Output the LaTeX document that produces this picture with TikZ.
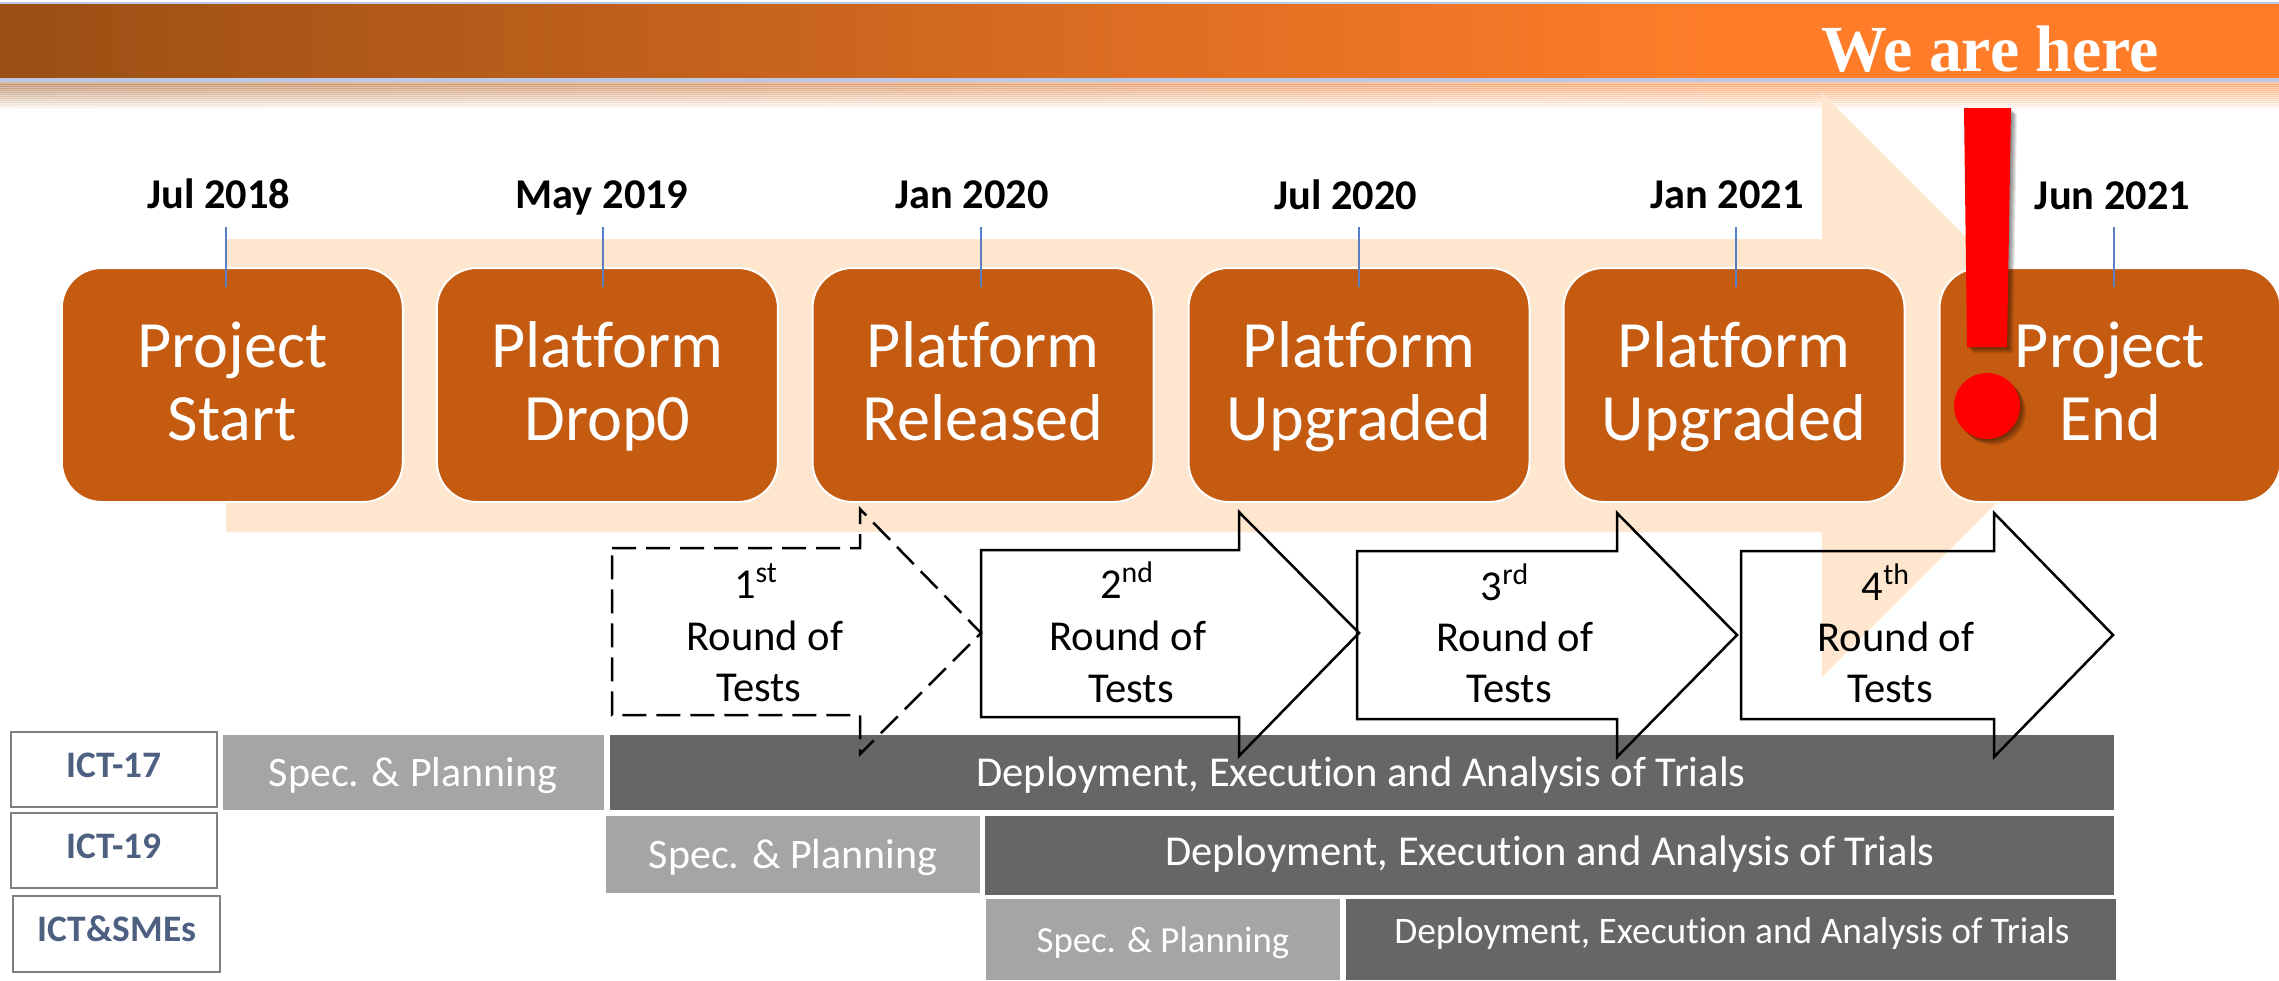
\documentclass[tikz,border=0pt]{standalone}
\usepackage{fontspec}
\setmainfont[Ligatures=NoCommon]{Carlito}
\newfontfamily\hdfont{Liberation Serif}
\usetikzlibrary{shadings}
\definecolor{boxc}{HTML}{C55A11}
\definecolor{beige}{HTML}{FEE7CE}
\definecolor{lblc}{HTML}{4D6082}
\definecolor{barl}{HTML}{A5A5A5}
\definecolor{bard}{HTML}{666666}
\definecolor{tickc}{HTML}{5B7FC4}
\definecolor{hdl}{HTML}{9A4F14}
\definecolor{hdr}{HTML}{FF7D29}
\definecolor{hdline}{HTML}{BCC9E6}
\pgfdeclarehorizontalshading{hdshade}{100bp}{color(0bp)=(hdl); color(25bp)=(hdl); color(62.55bp)=(hdr); color(100bp)=(hdr)}
\newcommand{\pxfont}[2]{\fontsize{#1}{#2}\selectfont}
\newcommand{\lnA}{\rule{0pt}{29.5pt}}
\newcommand{\lnB}{\rule[-10.95pt]{0pt}{10.95pt}}
\tikzset{
  x=0.5pt,y=-0.5pt,
  phase/.style={rectangle,rounded corners=20pt,fill=boxc,draw=white,line width=1pt,
    minimum width=170.5pt,minimum height=117pt,inner sep=0pt,text=white,align=center,font=\pxfont{33.1}{36.5}},
  datelab/.style={anchor=base,inner sep=0pt,font=\pxfont{21.2}{24}\bfseries,text=black},
  ticktrace/.style={draw=tickc,line width=0.6pt},
  rnd/.style={anchor=base,inner sep=0pt,font=\pxfont{21.3}{24},text=black},
  roundarrow/.style={draw=black,line width=1.25pt,miter limit=10},
  barlight/.style={fill=barl},
  bardark/.style={fill=bard},
  bartext/.style={anchor=base,inner sep=0pt,text=white},
  tag/.style={rectangle,draw=black!50,line width=1.2pt,fill=white,inner sep=0pt},
  taglab/.style={anchor=base,inner sep=0pt,text=lblc,font=\pxfont{18.7}{22}\bfseries},
}
\begin{document}
\begin{tikzpicture}
\useasboundingbox (0,0) rectangle (2279,980);
\fill[white] (0,0) rectangle (2279,980);
% header
\fill[hdline] (0,2) rectangle (2279,4);
\shade[shading=hdshade] (0,4) rectangle (2279,78);
\fill[hdline] (0,78) rectangle (2279,82);
\foreach \i in {0,...,12}{
  \pgfmathsetmacro{\op}{0.4*(1-\i/13)}
  \shade[shading=hdshade,opacity=\op] (0,82+2*\i) rectangle (2279,84+2*\i);
}
\node[anchor=base,inner sep=0pt,text=white,font=\hdfont\pxfont{32.9}{36}\bfseries] (here) at (1990,71) {We are here};
% big background arrow
\fill[beige] (226,239) -- (1822,239) -- (1822,93) -- (2114,385.5) -- (1822,677) -- (1822,532) -- (226,532) -- cycle;
% phases
\node[phase] (p1) at (232.3,385) {\lnA Project\\\lnB Start};
\node[phase] (p2) at (607.4,385) {\lnA Platform\\\lnB Drop0};
\node[phase] (p3) at (983,385) {\lnA Platform\\\lnB Released};
\node[phase] (p4) at (1359,385) {\lnA Platform\\\lnB Upgraded};
\node[phase] (p5) at (1734,385) {\lnA Platform\\\lnB Upgraded};
\node[phase] (p6) at (2110,385) {\lnA Project\\\lnB End};
% dates
\node[datelab] (d1) at (219,208) {Jul 2018};
\node[datelab] (d2) at (602,208) {May 2019};
\node[datelab] (d3) at (972,208) {Jan 2020};
\node[datelab] (d4) at (1346,209) {Jul 2020};
\node[datelab] (d5) at (1727,208) {Jan 2021};
\node[datelab] (d6) at (2112.5,209) {Jun 2021};
% ticks
\foreach \n/\xx in {1/226,2/603,3/981,4/1359,5/1736,6/2114}{
  \coordinate (ta\n) at (\xx,227);
  \coordinate (tb\n) at (\xx,287);
  \draw[ticktrace] (ta\n) -- (tb\n);
}
% bars
\fill[barlight] (223,735) rectangle (604,810);
\fill[bardark] (610,735) rectangle (2114,810);
\fill[barlight] (606,816) rectangle (980,893);
\fill[bardark] (985,816) rectangle (2114,895);
\fill[barlight] (986,899) rectangle (1340,980);
\fill[bardark] (1346,899) rectangle (2116,980);
\node[bartext,font=\pxfont{21}{24}] (s1) at (413,786) {Spec. \& Planning};
\node[bartext,font=\pxfont{21.3}{24}] (e1) at (1361,786) {Deployment, Execution and Analysis of Trials};
\node[bartext,font=\pxfont{21}{24}] (s2) at (793,868) {Spec. \& Planning};
\node[bartext,font=\pxfont{21.3}{24}] (e2) at (1550,865) {Deployment, Execution and Analysis of Trials};
\node[bartext,font=\pxfont{18.4}{22}] (s3) at (1163,952) {Spec. \& Planning};
\node[bartext,font=\pxfont{18.7}{22}] (e3) at (1732,943) {Deployment, Execution and Analysis of Trials};
% tags
\draw[tag] (11,732) rectangle (217,807);
\draw[tag] (11,813) rectangle (217,888);
\draw[tag] (13,896) rectangle (220,972);
\node[taglab] (t1) at (114,777) {ICT-17};
\node[taglab] (t2) at (114,858) {ICT-19};
\node[taglab] (t3) at (117,941) {ICT\&SMEs};
% round arrows
\draw[roundarrow,dash pattern=on 12pt off 5pt] (612,548) -- (860,548) -- (860,509) -- (981,633) -- (860,754) -- (860,715) -- (612,715) -- cycle;
\draw[roundarrow] (981,550) -- (1239,550) -- (1239,512) -- (1359,633) -- (1239,756) -- (1239,717) -- (981,717) -- cycle;
\draw[roundarrow] (1357,551) -- (1617,551) -- (1617,513) -- (1737,635) -- (1617,757) -- (1617,719) -- (1357,719) -- cycle;
\draw[roundarrow] (1741,551) -- (1994,551) -- (1994,513) -- (2113,635) -- (1994,757) -- (1994,719) -- (1741,719) -- cycle;
\node[rnd] (r1a) at (756,598) {1\textsuperscript{st}};
\node[rnd] (r1b) at (765,650) {Round of};
\node[rnd] (r1c) at (759,701) {Tests};
\node[rnd] (r2a) at (1127,598) {2\textsuperscript{nd}};
\node[rnd] (r2b) at (1128,650) {Round of};
\node[rnd] (r2c) at (1131,702) {Tests};
\node[rnd] (r3a) at (1505,600) {3\textsuperscript{rd}};
\node[rnd] (r3b) at (1515,651) {Round of};
\node[rnd] (r3c) at (1509,702) {Tests};
\node[rnd] (r4a) at (1886,600) {4\textsuperscript{th}};
\node[rnd] (r4b) at (1896,651) {Round of};
\node[rnd] (r4c) at (1890,702) {Tests};
% exclamation mark with soft shadow
\foreach \k in {1,...,6}{
  \fill[black,opacity=0.09] ({1964+\k},{108+\k}) -- ({2011+\k},{108+\k}) -- ({2007+\k},{347+\k}) -- ({1967+\k},{347+\k}) -- cycle;
  \fill[black,opacity=0.09] ({1987+\k},{406+\k}) ellipse [x radius=33,y radius=33];
}
\fill[red] (1964,108) -- (2011,108) -- (2007,347) -- (1967,347) -- cycle;
\fill[red] (1987,406) ellipse [x radius=33,y radius=33];
\end{tikzpicture}
\end{document}
